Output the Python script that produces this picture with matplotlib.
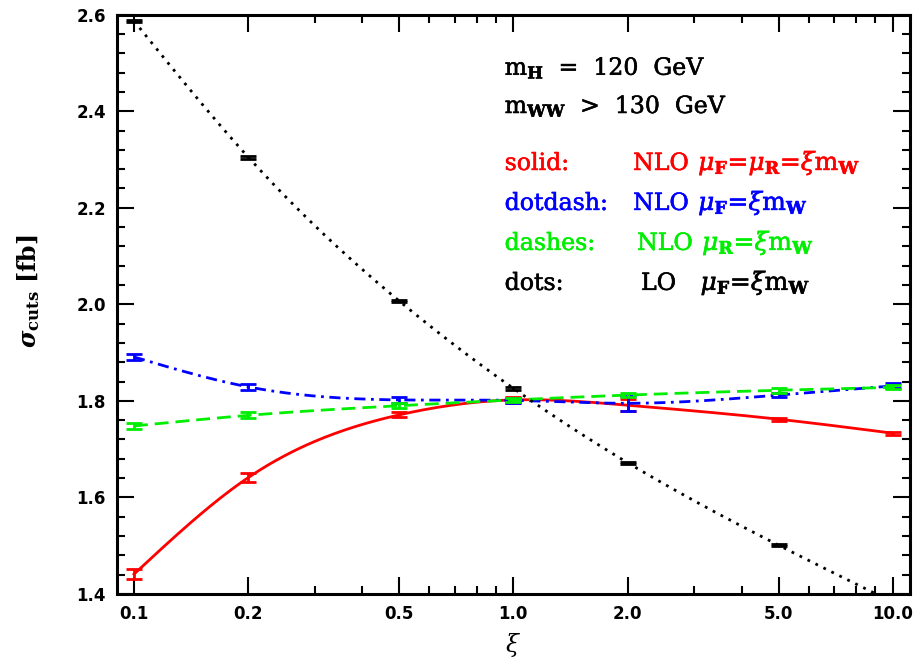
import numpy as np
import matplotlib
matplotlib.use('Agg')
import matplotlib.pyplot as plt
import matplotlib.patheffects as pe
from matplotlib.ticker import FixedLocator, NullFormatter

plt.rcParams['mathtext.fontset'] = 'dejavuserif'

xi = [0.1, 0.2, 0.5, 1.0, 2.0, 5.0, 10.0]

# NLO, mu_F = mu_R = xi m_W
nlo_both = [1.441, 1.641, 1.771, 1.802, 1.791, 1.762, 1.733]
nlo_both_err = [0.011, 0.010, 0.005, 0.006, 0.012, 0.003, 0.003]
# NLO, mu_F = xi m_W
nlo_fact = [1.891, 1.829, 1.802, 1.801, 1.795, 1.812, 1.831]
nlo_fact_err = [0.006, 0.006, 0.006, 0.005, 0.015, 0.004, 0.005]
# NLO, mu_R = xi m_W
nlo_ren = [1.748, 1.770, 1.790, 1.802, 1.812, 1.822, 1.828]
nlo_ren_err = [0.007, 0.006, 0.005, 0.004, 0.005, 0.005, 0.004]
# LO, mu_F = xi m_W
lo_fact = [2.587, 2.305, 2.007, 1.826, 1.672, 1.501, 1.383]
lo_fact_err = [0.003, 0.003, 0.003, 0.003, 0.002, 0.002, 0.002]

xticks = [0.1, 0.2, 0.5, 1.0, 2.0, 5.0, 10.0]
xticklabels = ['0.1', '0.2', '0.5', '1.0', '2.0', '5.0', '10.0']
yticks = [1.4, 1.6, 1.8, 2.0, 2.2, 2.4, 2.6]


def spline(x, y, n=300):
    # natural cubic spline in log10(x)
    t = np.log10(np.asarray(x, float))
    y = np.asarray(y, float)
    k = len(t)
    h = np.diff(t)
    A = np.zeros((k, k))
    r = np.zeros(k)
    A[0, 0] = A[-1, -1] = 1.0
    for i in range(1, k - 1):
        A[i, i - 1] = h[i - 1]
        A[i, i] = 2 * (h[i - 1] + h[i])
        A[i, i + 1] = h[i]
        r[i] = 6 * ((y[i + 1] - y[i]) / h[i] - (y[i] - y[i - 1]) / h[i - 1])
    M = np.linalg.solve(A, r)
    tt = np.linspace(t[0], t[-1], n)
    j = np.clip(np.searchsorted(t, tt) - 1, 0, k - 2)
    a = t[j + 1] - tt
    b = tt - t[j]
    hj = h[j]
    yy = (M[j] * a**3 + M[j + 1] * b**3) / (6 * hj) \
        + (y[j] / hj - M[j] * hj / 6) * a + (y[j + 1] / hj - M[j + 1] * hj / 6) * b
    return 10**tt, yy


fig = plt.figure(figsize=(9.19, 6.71), dpi=100)
ax = fig.add_axes([0.1273, 0.1148, 0.8627, 0.8633])

series = [
    (nlo_both, nlo_both_err, 'red', '-'),
    (nlo_fact, nlo_fact_err, 'blue', (0, (4, 2, 1, 2))),
    (nlo_ren, nlo_ren_err, '#00ee00', (0, (5, 2.5))),
    (lo_fact, lo_fact_err, 'black', (0, (1, 2.2))),
]
for vals, err, col, ls in series:
    sx, sy = spline(xi, vals)
    ax.plot(sx, sy, color=col, linestyle=ls, lw=2)
    ax.errorbar(xi, vals, yerr=err, fmt='none', ecolor=col, elinewidth=2,
                capsize=6, capthick=2)

ax.set_xscale('log')
ax.set_xlim(0.0902, 11.09)
ax.set_ylim(1.4, 2.6)

ax.set_xticks(xticks)
ax.set_xticklabels(xticklabels)
ax.xaxis.set_minor_locator(FixedLocator([0.3, 0.4, 0.6, 0.7, 0.8, 0.9, 3, 4, 6, 7, 8, 9]))
ax.xaxis.set_minor_formatter(NullFormatter())
ax.set_yticks(yticks)
ax.set_yticklabels([f'{v:.1f}' for v in yticks])
ax.yaxis.set_minor_locator(FixedLocator(np.arange(1.4, 2.61, 0.04)))

for lab in ax.get_xticklabels() + ax.get_yticklabels():
    lab.set_fontweight('bold')
    lab.set_fontsize(12)
ax.tick_params(which='both', direction='in', top=True, right=True, width=1.5)
ax.tick_params(which='major', length=12, pad=8)
ax.tick_params(which='minor', length=6)
for sp in ax.spines.values():
    sp.set_linewidth(2.2)

ax.set_xlabel(r'$\xi$', fontsize=17, labelpad=6)
ax.set_ylabel(r'$\boldsymbol{\sigma}_\mathbf{cuts}$ [fb]', fontsize=17, family='DejaVu Serif',
              fontweight='bold')
ax.yaxis.set_label_coords(-0.095, 0.523)

fs = 17
fam = 'DejaVu Serif'


def label(x, y, s, col, size=fs):
    ax.text(x, y, s, transform=ax.transAxes, fontsize=size, family=fam, color=col,
            path_effects=[pe.withStroke(linewidth=0.4, foreground=col)])


label(0.489, 0.896, r'm$_\mathbf{H}$  =  120  GeV', 'black')
label(0.489, 0.830, r'm$_\mathbf{WW}$  >  130  GeV', 'black')

rows = [
    ('solid:', 'NLO', r'$\mu_\mathbf{F}$=$\mu_\mathbf{R}$=$\xi$m$_\mathbf{W}$', 'red', 0.651, 0.733),
    ('dotdash:', 'NLO', r'$\mu_\mathbf{F}$=$\xi$m$_\mathbf{W}$', 'blue', 0.651, 0.733),
    ('dashes:', 'NLO', r'$\mu_\mathbf{R}$=$\xi$m$_\mathbf{W}$', '#00ee00', 0.656, 0.738),
    ('dots:', 'LO', r'$\mu_\mathbf{F}$=$\xi$m$_\mathbf{W}$', 'black', 0.661, 0.736),
]
row_y = [0.732, 0.663, 0.594, 0.525]
for (style, order, scale, col, xo, xs), yy in zip(rows, row_y):
    label(0.489, yy, style, col)
    label(xo, yy, order, col)
    label(xs, yy, scale, col, fs + 1)

fig.savefig('out.png', dpi=100)
